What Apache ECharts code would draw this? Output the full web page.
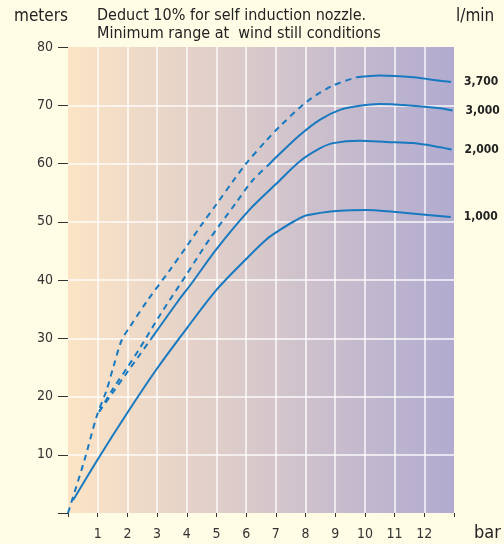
<!DOCTYPE html>
<html>
<head>
<meta charset="utf-8">
<script src="https://cdn.jsdelivr.net/npm/echarts@6/dist/echarts.min.js"></script>
<style>
  html, body { margin: 0; padding: 0; background: #fffce6; }
  #chart { width: 504px; height: 544px; }
</style>
</head>
<body>
<div id="chart"></div>
<script>
// pressure (bar) vs range (meters), one curve per flow rate (l/min)
const xTicks = [0, 1, 2, 3, 4, 5, 6, 7, 8, 9, 10, 11, 12, 13];
const yTicks = [0, 10, 20, 30, 40, 50, 60, 70, 80];
const flowNames = ["3,700", "3,000", "2,000", "1,000"];

// dashed part (estimated) and solid part of each curve, [bar, meters]
const dash3700 = [[0, 0], [0.55, 9.0], [0.96, 16.5], [1.3, 21.1], [1.53, 25.1], [1.81, 29.7], [2.09, 32.0],
  [2.65, 36.3], [3.43, 41.7], [4.0, 45.8], [4.5, 49.5], [5.0, 53.0], [5.56, 57.0], [6.0, 60.0],
  [6.69, 64.0], [7.14, 66.4], [8.04, 70.6], [8.93, 73.4], [9.72, 74.8]];
const solid3700 = [[9.72, 74.8], [10.5, 75.1], [11.63, 74.8], [12.53, 74.2], [12.9, 74.0]];

const dash3000 = [[1.05, 17.4], [1.5, 21.2], [2.0, 25.0], [2.42, 28.3], [3.1, 34.0], [4.0, 41.0],
  [4.75, 46.9], [5.68, 53.4], [6.2, 57.0], [6.8, 60.0]];
const solid3000 = [[6.8, 60.0], [7.14, 61.7], [7.81, 64.9], [8.48, 67.5], [9.16, 69.2], [9.83, 69.9],
  [10.5, 70.2], [11.4, 70.0], [12.53, 69.5], [12.95, 69.1]];

const dash2000 = [[1.05, 17.4], [1.5, 20.6], [2.0, 24.2], [2.8, 29.9]];
const solid2000 = [[2.8, 29.9], [3.71, 36.4], [4.16, 39.4], [5.0, 45.3], [6.1, 52.0], [7.03, 56.6],
  [7.81, 60.4], [8.48, 62.6], [8.93, 63.5], [9.83, 63.9], [10.73, 63.7], [11.63, 63.5], [12.53, 62.8],
  [12.92, 62.4]];

const solid1000 = [[0.17, 2.2], [1, 9.2], [2, 17.2], [3, 24.8], [4, 31.7], [5, 38.3], [6, 43.6],
  [6.69, 47.0], [7.14, 48.6], [7.59, 50.0], [8.04, 51.1], [9.16, 51.9], [10.06, 52.0], [10.95, 51.7],
  [11.85, 51.3], [12.89, 50.8]];

const FONT = "'Liberation Sans Narrow', 'DejaVu Sans Condensed', sans-serif";
const BLUE = "#1879c0";

const chart = echarts.init(document.getElementById("chart"));

function dashed(data) {
  return {
    type: "line", data: data, showSymbol: false, smooth: 0.3, silent: true,
    lineStyle: { color: BLUE, width: 2, type: [6, 5] }
  };
}
function solid(data, name) {
  return {
    type: "line", name: name, data: data, showSymbol: false, smooth: 0.3, silent: true,
    lineStyle: { color: BLUE, width: 2 },
    endLabel: {
      show: true, formatter: name, distance: 13,
      fontFamily: FONT, fontSize: 12, fontWeight: "bold", color: "#222"
    }
  };
}

chart.setOption({
  backgroundColor: "#fffce6",
  textStyle: { fontFamily: FONT },
  animation: false,
  grid: {
    left: 68, right: 50, top: 47, bottom: 31, show: true, borderWidth: 0,
    backgroundColor: new echarts.graphic.LinearGradient(0, 0, 1, 0, [
      { offset: 0, color: "#fce4c5" },
      { offset: 1, color: "#b1abd0" }
    ])
  },
  xAxis: {
    type: "value", min: 0, max: 13, interval: 1,
    axisLine: { show: false },
    axisTick: { show: true, length: 4, lineStyle: { color: "#333" } },
    axisLabel: {
      margin: 14, fontSize: 14, color: "#333", fontFamily: FONT,
      formatter: v => (v === xTicks[0] || v === xTicks[xTicks.length - 1]) ? "" : String(v)
    },
    splitLine: { show: true, showMinLine: false, showMaxLine: false,
      lineStyle: { color: "rgba(255,255,255,0.9)", width: 1.5 } }
  },
  yAxis: {
    type: "value", min: yTicks[0], max: yTicks[yTicks.length - 1], interval: 10,
    axisLine: { show: false },
    axisTick: { show: true, length: 10, lineStyle: { color: "#333" } },
    axisLabel: {
      margin: 15, fontSize: 14, color: "#333", fontFamily: FONT,
      formatter: v => v === 0 ? "" : String(v)
    },
    splitLine: { show: true, showMinLine: false, showMaxLine: false,
      lineStyle: { color: "rgba(255,255,255,0.9)", width: 1.5 } }
  },
  graphic: [
    { type: "text", left: 14, top: 8, style: { text: "meters", font: "17px " + FONT, fill: "#222" } },
    { type: "text", left: 97, top: 8, style: { text: "Deduct 10% for self induction nozzle.", font: "16px " + FONT, fill: "#222" } },
    { type: "text", left: 97, top: 26, style: { text: "Minimum range at  wind still conditions", font: "16px " + FONT, fill: "#222" } },
    { type: "text", left: 456, top: 8, style: { text: "l/min", font: "17px " + FONT, fill: "#222" } },
    { type: "text", left: 474, top: 524, style: { text: "bar", font: "18px " + FONT, fill: "#222" } }
  ],
  series: [
    dashed(dash3700), solid(solid3700, flowNames[0]),
    dashed(dash3000), solid(solid3000, flowNames[1]),
    dashed(dash2000), solid(solid2000, flowNames[2]),
    solid(solid1000, flowNames[3])
  ]
});
</script>
</body>
</html>
